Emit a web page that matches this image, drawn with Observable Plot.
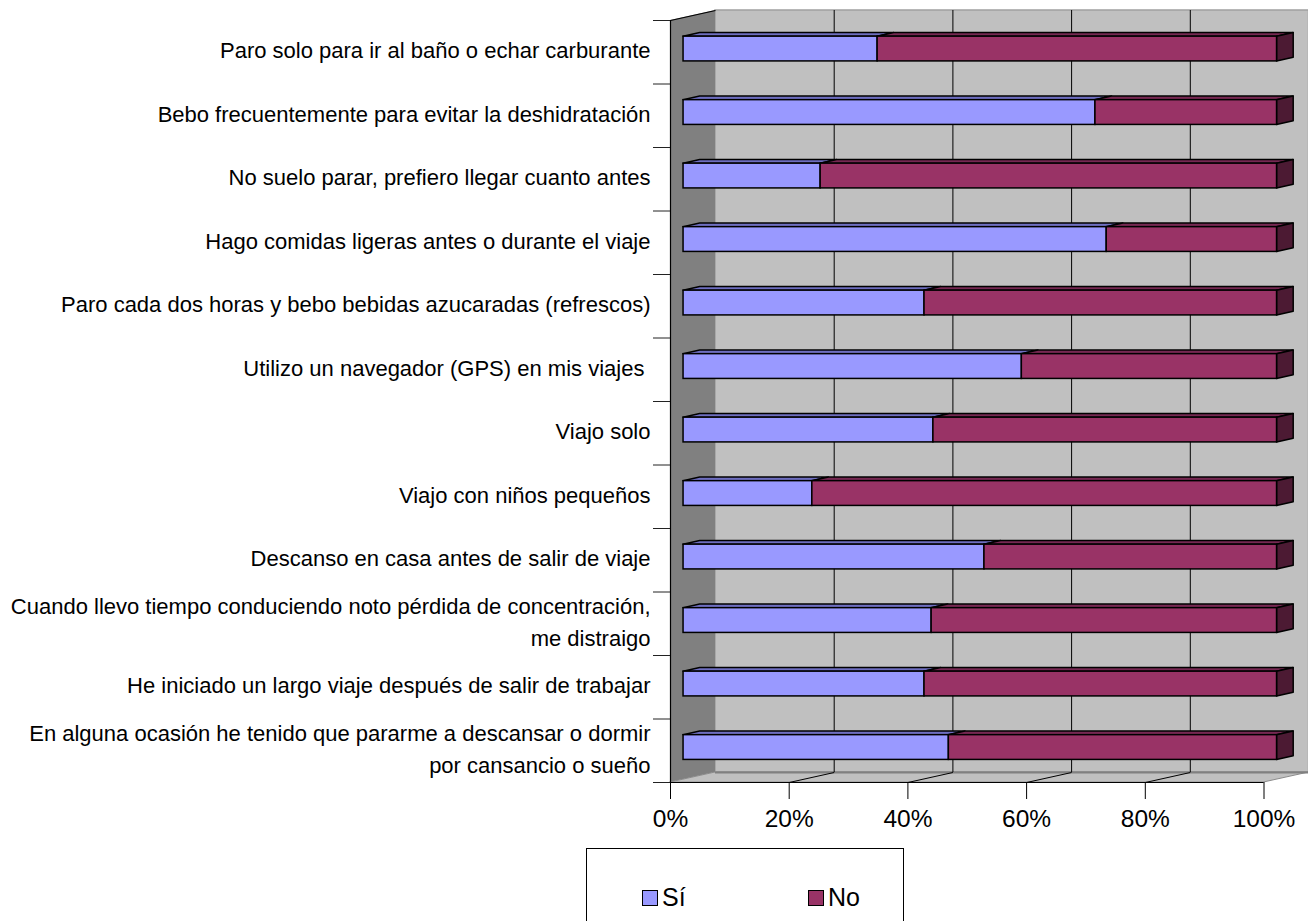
<!DOCTYPE html>
<html>
<head>
<meta charset="utf-8">
<script src="https://cdn.jsdelivr.net/npm/d3@7"></script>
<script src="https://cdn.jsdelivr.net/npm/@observablehq/plot@0.6"></script>
<style>
  html, body { margin: 0; padding: 0; background: #fff; }
  body { width: 1308px; height: 921px; position: relative; overflow: hidden;
         font-family: "Liberation Sans", Arial, sans-serif; }
  #chart svg { display: block; }
  #legend { position: absolute; left: 586px; top: 848px; width: 318px; height: 100px;
            border: 1px solid #000; box-sizing: border-box; background: #fff; }
  .item { position: absolute; top: 34px; display: flex; align-items: center;
          font-size: 25px; color: #000; }
  .swatch { width: 14px; height: 14px; border: 1px solid #000; margin-right: 4px; }
</style>
</head>
<body>
<div id="chart"></div>
<div id="legend"></div>
<script>
// Survey statements (top to bottom)
const categories = [
  "Paro solo para ir al baño o echar carburante",
  "Bebo frecuentemente para evitar la deshidratación",
  "No suelo parar, prefiero llegar cuanto antes",
  "Hago comidas ligeras antes o durante el viaje",
  "Paro cada dos horas y bebo bebidas azucaradas (refrescos)",
  "Utilizo un navegador (GPS) en mis viajes\u00a0",
  "Viajo solo",
  "Viajo con niños pequeños",
  "Descanso en casa antes de salir de viaje",
  "Cuando llevo tiempo conduciendo noto pérdida de concentración,\nme distraigo",
  "He iniciado un largo viaje después de salir de trabajar",
  "En alguna ocasión he tenido que pararme a descansar o dormir\npor cansancio o sueño"
];

const seriesNames = ["Sí", "No"];
// Percent of answers per statement
const si = [32.7, 69.4, 23.1, 71.3, 40.6, 57.0, 42.1, 21.7, 50.7, 41.8, 40.6, 44.7];
const no = [67.3, 30.6, 76.9, 28.7, 59.4, 43.0, 57.9, 78.3, 49.3, 58.2, 59.4, 55.3];

const xTicks = [0, 20, 40, 60, 80, 100];

// Face colours: front, top (shaded), right side (darker)
const FRONT = ["#9999FF", "#993366"];
const TOP   = ["#6E6EC0", "#762852"];
const SIDE  = ["#4D4D80", "#4C1A33"];

// Plot geometry
const WIDTH = 1308, HEIGHT = 845;
const X_RANGE = [670, 1263.5];
const Y_RANGE = [20, 782];
const N = categories.length;

// Depth of the 3-D box expressed in data units (45px right, 10px up)
const DEPTH_X = 45 * 100 / (X_RANGE[1] - X_RANGE[0]);
const DEPTH_Y = -10 * N / (Y_RANGE[1] - Y_RANGE[0]);
// Bars sit part-way into the box and fill part of each row
const BAR_FRONT = 0.29, BAR_BACK = 0.66;
const BAR_TOP = 0.30, BAR_BOTTOM = 0.69;

// 100% stacked segments
const segments = [];
categories.forEach((c, row) => {
  const vals = [si[row], no[row]];
  const total = d3.sum(vals);
  let acc = 0;
  vals.forEach((v, s) => {
    const a = acc / total * 100;
    acc += v;
    const b = acc / total * 100;
    segments.push({row, s, series: seriesNames[s], a, b, key: row * 2 + s});
  });
});

// Top faces: parallelograms between front and back top edges
const topFaces = segments.flatMap(d => [BAR_FRONT, BAR_BACK].map(t => ({
  key: d.key, s: d.s,
  y: d.row + BAR_TOP + t * DEPTH_Y,
  x1: d.a + t * DEPTH_X,
  x2: d.b + t * DEPTH_X
})));

// Right end faces of each stacked bar
const sideFaces = segments.filter(d => d.s === seriesNames.length - 1).flatMap(d => [BAR_FRONT, BAR_BACK].map(t => ({
  key: d.key, s: d.s,
  x: d.b + t * DEPTH_X,
  y1: d.row + BAR_TOP + t * DEPTH_Y,
  y2: d.row + BAR_BOTTOM + t * DEPTH_Y
})));

const sideWall = [
  {x: 0, y1: 0, y2: N},
  {x: DEPTH_X, y1: DEPTH_Y, y2: N + DEPTH_Y}
];
const floor = [
  {y: N, x1: 0, x2: 100},
  {y: N + DEPTH_Y, x1: DEPTH_X, x2: 100 + DEPTH_X}
];
const innerTicks = xTicks.filter(v => v > 0 && v < 100);
const rowEdges = d3.range(N + 1);

const chart = Plot.plot({
  width: WIDTH,
  height: HEIGHT,
  marginLeft: X_RANGE[0],
  marginRight: WIDTH - X_RANGE[1],
  marginTop: Y_RANGE[0],
  marginBottom: HEIGHT - Y_RANGE[1],
  style: {fontFamily: "'Liberation Sans', Arial, sans-serif", color: "#000", background: "#fff"},
  x: {type: "linear", domain: [0, 100], range: X_RANGE},
  y: {type: "linear", domain: [0, N], range: Y_RANGE},
  color: {type: "identity"},
  marks: [
    // back wall
    Plot.rect([0], {x1: () => DEPTH_X, x2: () => 100 + DEPTH_X, y1: () => DEPTH_Y, y2: () => N + DEPTH_Y,
      fill: "#C0C0C0", stroke: "#A0A0A0", strokeWidth: 1.5}),
    // left side wall
    Plot.areaY(sideWall, {x: "x", y1: "y1", y2: "y2", fill: "#808080"}),
    // floor
    Plot.areaX(floor, {y: "y", x1: "x1", x2: "x2", fill: "#C0C0C0", stroke: "#8A8A8A", strokeWidth: 1}),
    Plot.ruleY([N + DEPTH_Y], {x1: () => DEPTH_X, x2: () => 100 + DEPTH_X, stroke: "#808080", strokeWidth: 2}),
    // gridlines on the back wall and the floor
    Plot.ruleX(innerTicks, {x: d => d + DEPTH_X, y1: () => DEPTH_Y, y2: () => N + DEPTH_Y, stroke: "#000", strokeWidth: 1}),
    Plot.link(innerTicks, {x1: d => d, y1: () => N, x2: d => d + DEPTH_X, y2: () => N + DEPTH_Y, stroke: "#000", strokeWidth: 1}),
    // top edge of the side wall
    Plot.link([0], {x1: () => 0, y1: () => 0, x2: () => DEPTH_X, y2: () => DEPTH_Y, stroke: "#000", strokeWidth: 1.2}),
    // axis lines
    Plot.ruleX([0], {y1: () => 0, y2: () => N, stroke: "#000", strokeWidth: 1.2}),
    Plot.ruleY([N], {x1: () => 0, x2: () => 100, stroke: "#000", strokeWidth: 1.2}),
    // row tick marks
    Plot.axisY({ticks: rowEdges, tickSize: 17, tickFormat: () => "", label: null, stroke: "#222"}),
    // bars: top faces, end faces, front faces
    Plot.areaX(topFaces, {y: "y", x1: "x1", x2: "x2", z: "key", fill: d => TOP[d.s],
      stroke: "#000", strokeWidth: 1.5, strokeLinejoin: "round"}),
    Plot.areaY(sideFaces, {x: "x", y1: "y1", y2: "y2", z: "key", fill: d => SIDE[d.s],
      stroke: "#000", strokeWidth: 1.5, strokeLinejoin: "round"}),
    Plot.rect(segments, {
      x1: d => d.a + BAR_FRONT * DEPTH_X,
      x2: d => d.b + BAR_FRONT * DEPTH_X,
      y1: d => d.row + BAR_TOP + BAR_FRONT * DEPTH_Y,
      y2: d => d.row + BAR_BOTTOM + BAR_FRONT * DEPTH_Y,
      fill: d => FRONT[d.s], stroke: "#000", strokeWidth: 1.5
    }),
    // x axis
    Plot.axisX({ticks: xTicks, tickSize: 17, tickPadding: 10, tickFormat: d => d + "%",
      fontSize: 24.5, label: null, stroke: "#000"}),
    // statement labels
    Plot.text(categories, {y: (d, i) => i + 0.5, text: d => d, frameAnchor: "left",
      textAnchor: "end", dx: -20, dy: -4, fontSize: 22, lineHeight: 1.45, fill: "#000"})
  ]
});
document.getElementById("chart").appendChild(chart);

// legend
const legend = d3.select("#legend");
const legendLeft = [55, 221];
seriesNames.forEach((name, i) => {
  const item = legend.append("div").attr("class", "item").style("left", legendLeft[i] + "px");
  item.append("div").attr("class", "swatch").style("background", FRONT[i]);
  item.append("span").text(name);
});
</script>
</body>
</html>
